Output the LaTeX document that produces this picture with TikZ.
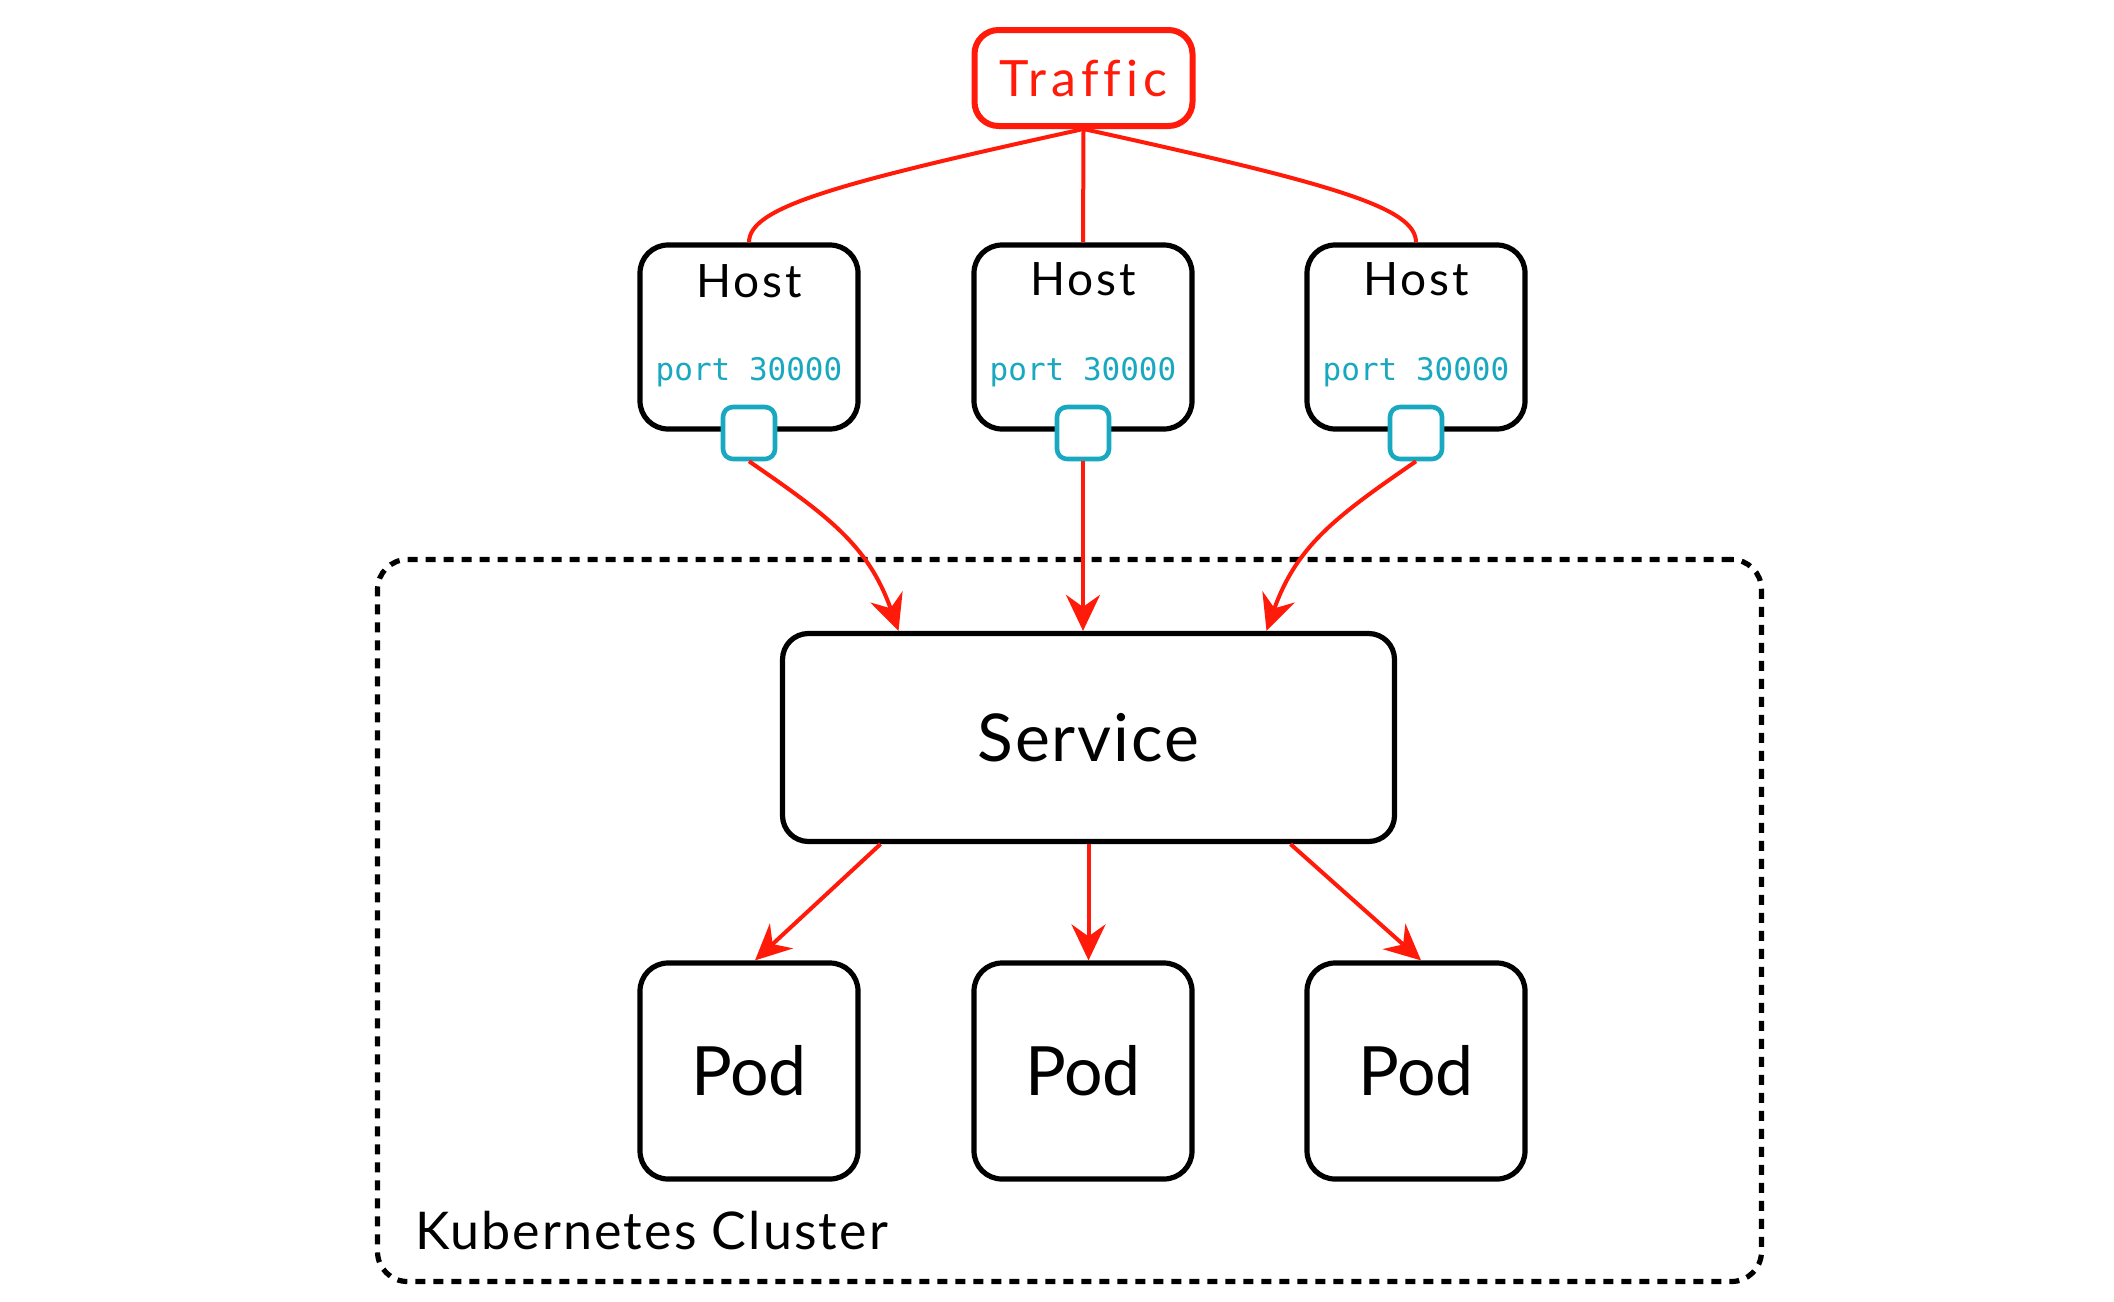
\documentclass[tikz,border=0pt]{standalone}
\usepackage{fontspec}
\setmainfont{Lato}
\setmonofont{DejaVu Sans Mono}
\usetikzlibrary{arrows.meta}
\definecolor{tred}{HTML}{FF1A0A}
\definecolor{tcyan}{HTML}{18A8C0}
\begin{document}
\begin{tikzpicture}[x=0.5pt,y=-0.5pt,
  box/.style={draw=black, line width=2.6pt, fill=white, inner sep=0pt},
  hostbox/.style={box, rounded corners=14pt, minimum width=109pt, minimum height=92pt},
  podbox/.style={box, rounded corners=14pt, minimum width=109pt, minimum height=108pt},
  svcbox/.style={box, rounded corners=13pt, minimum width=306pt, minimum height=104pt},
  trafficbox/.style={draw=tred, line width=3pt, fill=white, rounded corners=12pt, minimum width=109pt, minimum height=48pt, inner sep=0pt},
  portbox/.style={draw=tcyan, line width=2.3pt, fill=white, rounded corners=5pt, minimum width=26pt, minimum height=26pt, inner sep=0pt},
  clusterbox/.style={draw=black, line width=2.6pt, dash pattern=on 5pt off 4pt, rounded corners=15pt, minimum width=692pt, minimum height=361pt, inner sep=0pt},
  hosttxt/.style={font=\fontsize{23}{27}\selectfont\addfontfeatures{LetterSpace=6}, inner sep=0pt},
  porttxt/.style={font=\ttfamily\fontsize{15.5}{18}\selectfont, text=tcyan, inner sep=0pt},
  tline/.style={draw=tred, line width=2pt},
  tarrow/.style={tline, -{Stealth[length=18pt, width=17pt, inset=6pt]}},
]
\useasboundingbox (0,0) rectangle (2114,1301);

% cluster
\node[clusterbox] (cluster) at (1069.5,920.5) {};
\node[anchor=west, font=\fontsize{26}{30}\selectfont\addfontfeatures{LetterSpace=4}, inner sep=0pt] (clusterlbl) at (415,1231) {Kubernetes Cluster};

% traffic
\node[trafficbox, font=\fontsize{25}{30}\selectfont\addfontfeatures{LetterSpace=10,Ligatures=CommonOff}, text=tred] (tr) at (1083.5,78) {Traffic};

% hosts
\node[hostbox] (h1) at (749,337) {};
\node[hostbox] (h2) at (1083,337) {};
\node[hostbox] (h3) at (1416,337) {};
\node[hosttxt] (h1t) at (749,281) {Host};
\node[hosttxt] (h2t) at (1083,279) {Host};
\node[hosttxt] (h3t) at (1416,279) {Host};
\node[porttxt] (h1p) at (749,372) {port 30000};
\node[porttxt] (h2p) at (1083,372) {port 30000};
\node[porttxt] (h3p) at (1416,372) {port 30000};
\node[portbox] (p1) at (749,433) {};
\node[portbox] (p2) at (1083,433) {};
\node[portbox] (p3) at (1416,433) {};

% service
\node[svcbox, font=\fontsize{33}{38}\selectfont\addfontfeatures{LetterSpace=3}] (svc) at (1088.5,737.5) {Service};

% pods
\node[podbox, font=\fontsize{34}{40}\selectfont] (pod1) at (749,1071) {Pod};
\node[podbox, font=\fontsize{34}{40}\selectfont] (pod2) at (1083,1071) {Pod};
\node[podbox, font=\fontsize{34}{40}\selectfont] (pod3) at (1416,1071) {Pod};

% traffic to hosts
\draw[tline] (tr.south) .. controls +(-250,55) and +(0,-35) .. (h1.north);
\draw[tline] (tr.south) -- (h2.north);
\draw[tline] (tr.south) .. controls +(250,55) and +(0,-35) .. (h3.north);

% ports to service
\draw[tarrow] (p1.south) .. controls +(80,55) and +(-30,-85) .. ([xshift=-95pt]svc.north);
\draw[tarrow] (p2.south) -- (p2.south |- svc.north);
\draw[tarrow] (p3.south) .. controls +(-80,55) and +(30,-85) .. ([xshift=89pt]svc.north);

% service to pods
\draw[tarrow] ([xshift=-104pt]svc.south) -- ([xshift=3pt]pod1.north);
\draw[tarrow] ([xshift=0pt]svc.south) -- ([xshift=0pt]svc.south |- pod2.north);
\draw[tarrow] ([xshift=101pt]svc.south) -- ([xshift=2.5pt]pod3.north);
\end{tikzpicture}
\end{document}
